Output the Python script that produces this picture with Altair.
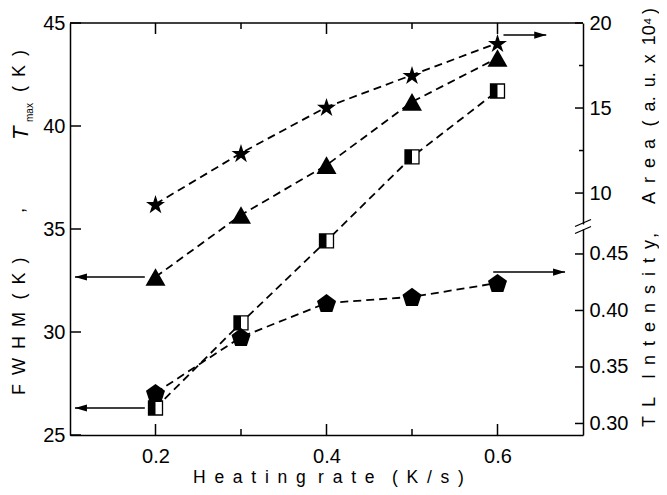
import altair as alt
import pandas as pd

# ---------------- data ----------------
rate = [0.2, 0.3, 0.4, 0.5, 0.6]
tmax = [32.67, 35.68, 38.10, 41.17, 43.30]          # left axis (K)
fwhm = [26.31, 30.44, 34.42, 38.50, 41.70]          # left axis (K)
area = [9.35, 12.35, 15.06, 16.94, 18.82]           # right upper axis (a.u. x 10^4)
tl_intensity = [0.327, 0.3765, 0.4066, 0.412, 0.4243]  # right lower axis

x_major = [0.2, 0.4, 0.6]
x_minor = [0.3, 0.5]
left_ticks = [25, 30, 35, 40, 45]
area_ticks = [10, 15, 20]
area_minor = [12.5, 17.5]
tl_ticks = [0.30, 0.35, 0.40, 0.45]

# arrows: which axis each series belongs to
left_arrow_y = [32.67, 26.31]
left_arrow_start, left_arrow_tip = 0.1875, 0.1058
area_arrow_y, area_arrow_start, area_arrow_tip = 19.29, 0.607, 0.657
tl_arrow_y, tl_arrow_start, tl_arrow_tip = 0.434, 0.595, 0.679

EN, THIN = "\u2002", "\u2009"
x_title = EN.join("Heating") + EN + THIN + EN.join("rate") + EN + EN + EN.join("(K/s)")
fwhm_title = EN.join("FWHM") + EN + THIN + EN.join("(K)")
t_title, max_title, k_title = "T", "max", EN.join("(K)")
tl_title = EN.join("TL") + EN + EN + EN.join("Intensity")
area_title = (EN.join("Area") + EN + THIN + "(" + EN + "a." + EN + "u." + EN + "x" + EN
              + "10\u2074" + THIN + ")")

# ---------------- styling ----------------
W, H = 513, 412
FONT = "Liberation Sans"
BLK = "black"

XS = alt.Scale(domain=[0.1, 0.7], nice=False, zero=False)
x_axis = alt.Axis(values=x_major, format=".1f", ticks=False, tickSize=0,
                  labelFontSize=20, labelFont=FONT, labelColor=BLK, labelPadding=11,
                  domainColor=BLK, domainWidth=1.5, grid=False, title=None)
XE = alt.X("x:Q", scale=XS, axis=x_axis)

YLS = alt.Scale(domain=[25, 45], nice=False, zero=False)
YL = alt.Y("v:Q", scale=YLS,
           axis=alt.Axis(orient="left", values=left_ticks, ticks=False, tickSize=0,
                         labelFontSize=20, labelFont=FONT, labelColor=BLK, labelPadding=5,
                         domainColor=BLK, domainWidth=1.5, grid=False, title=None))
YAS = alt.Scale(domain=[8.18, 20], range=[201, 0], nice=False, zero=False)
YA = alt.Y("v:Q", scale=YAS,
           axis=alt.Axis(orient="right", values=area_ticks, ticks=False, tickSize=0,
                         labelFontSize=20, labelFont=FONT, labelColor=BLK, labelPadding=6,
                         domainColor=BLK, domainWidth=1.5, grid=False, title=None))
YTS = alt.Scale(domain=[0.2898, 0.4721], range=[H, 206], nice=False, zero=False)
YT = alt.Y("v:Q", scale=YTS,
           axis=alt.Axis(orient="right", values=tl_ticks, format=".2f", ticks=False, tickSize=0,
                         labelFontSize=20, labelFont=FONT, labelColor=BLK, labelPadding=6,
                         domainColor=BLK, domainWidth=1.5, grid=False, title=None))


def star_path():
    import math
    pts = []
    for i in range(10):
        r = 1.0 if i % 2 == 0 else 0.382
        a = math.radians(-90 + 36 * i)
        pts.append((r * math.cos(a), r * math.sin(a) + 0.0955))
    return "M" + "L".join(f"{x:.3f},{y:.3f}" for x, y in pts) + "Z"


def pent_path():
    import math
    pts = []
    for i in range(5):
        a = math.radians(-90 + 72 * i)
        pts.append((math.cos(a), math.sin(a) + 0.0955))
    return "M" + "L".join(f"{x:.3f},{y:.3f}" for x, y in pts) + "Z"


TRI = "M0,-0.885L1,0.885L-1,0.885Z"
HALF = "M-1,-1L0,-1L0,1L-1,1Z"
HEAD_L = "M0,0L2,-0.6L2,0.6Z"
HEAD_R = "M0,0L-2,-0.6L-2,0.6Z"


def df(xs, vs):
    return pd.DataFrame({"x": xs, "v": vs})


def dline(d, Y):
    return alt.Chart(d).mark_line(color=BLK, strokeWidth=1.8, strokeDash=[8, 5]).encode(x=XE, y=Y)


def pts(d, Y, shape, size, **kw):
    args = dict(shape=shape, size=size, filled=True, color=BLK, opacity=1, strokeWidth=0)
    args.update(kw)
    return alt.Chart(d).mark_point(**args).encode(x=XE, y=Y)


def arrow(y, x0, x1, Y, head):
    body = alt.Chart(pd.DataFrame({"x": [x0] * len(y), "x2": [x1] * len(y), "v": y})).mark_rule(
        color=BLK, strokeWidth=1.5).encode(x=XE, x2="x2:Q", y=Y)
    tip = pts(df([x1] * len(y), y), Y, head, 144)
    return [body, tip]


dummy = pd.DataFrame({"a": [0]})

# ---------------- left group ----------------
d_tmax, d_fwhm = df(rate, tmax), df(rate, fwhm)
left_layers = [
    dline(d_tmax, YL), dline(d_fwhm, YL),
    pts(d_tmax, YL, TRI, 400),
    pts(d_fwhm, YL, "square", 196, fill="white", stroke=BLK, strokeWidth=1.3),
    pts(d_fwhm, YL, HALF, 196),
    alt.Chart(pd.DataFrame({"v": left_ticks})).mark_rule(color=BLK, strokeWidth=1.5).encode(
        y=YL, x=alt.value(0), x2=alt.value(11)),
    alt.Chart(pd.DataFrame({"x": x_major})).mark_rule(color=BLK, strokeWidth=1.5).encode(
        x=XE, y=alt.value(H), y2=alt.value(H - 11)),
    alt.Chart(pd.DataFrame({"x": x_minor})).mark_rule(color=BLK, strokeWidth=1.5).encode(
        x=XE, y=alt.value(H), y2=alt.value(H - 6)),
    alt.Chart(pd.DataFrame({"x": x_major})).mark_rule(color=BLK, strokeWidth=1.5).encode(
        x=XE, y=alt.value(0), y2=alt.value(11)),
    alt.Chart(pd.DataFrame({"x": x_minor})).mark_rule(color=BLK, strokeWidth=1.5).encode(
        x=XE, y=alt.value(0), y2=alt.value(6)),
    alt.Chart(dummy).mark_rule(color=BLK, strokeWidth=1.5).encode(
        x=alt.value(0), x2=alt.value(W), y=alt.value(0)),
] + arrow(left_arrow_y, left_arrow_start, left_arrow_tip, YL, HEAD_L)
left_group = alt.layer(*left_layers)

# ---------------- area group ----------------
d_area = df(rate, area)
area_layers = [
    dline(d_area, YA),
    pts(d_area, YA, star_path(), 400),
    alt.Chart(pd.DataFrame({"v": area_ticks})).mark_rule(color=BLK, strokeWidth=1.5).encode(
        y=YA, x=alt.value(W - 8), x2=alt.value(W)),
    alt.Chart(pd.DataFrame({"v": area_minor})).mark_rule(color=BLK, strokeWidth=1.5).encode(
        y=YA, x=alt.value(W - 4), x2=alt.value(W)),
] + arrow([area_arrow_y], area_arrow_start, area_arrow_tip, YA, HEAD_R)
area_group = alt.layer(*area_layers)

# ---------------- TL group ----------------
d_tl = df(rate, tl_intensity)
tl_layers = [
    dline(d_tl, YT),
    pts(d_tl, YT, pent_path(), 400),
    alt.Chart(pd.DataFrame({"v": tl_ticks})).mark_rule(color=BLK, strokeWidth=1.5).encode(
        y=YT, x=alt.value(W - 8), x2=alt.value(W)),
] + arrow([tl_arrow_y], tl_arrow_start, tl_arrow_tip, YT, HEAD_R)
tl_group = alt.layer(*tl_layers)

# ---------------- axis break + titles ----------------
def brk(y0):
    return alt.Chart(dummy).mark_rule(color=BLK, strokeWidth=1.3).encode(
        x=alt.value(W - 8), x2=alt.value(W + 8), y=alt.value(y0 + 3.5), y2=alt.value(y0 - 3.5))


def txt(s, x, y, size=18, angle=270, align="left", **kw):
    return alt.Chart(pd.DataFrame({"t": [s]})).mark_text(
        angle=angle, align=align, baseline="alphabetic", fontSize=size, font=FONT,
        color=BLK, **kw).encode(text="t:N", x=alt.value(x), y=alt.value(y))


RX = 585
deco = alt.layer(
    brk(200), brk(207),
    txt(x_title, 123, 460, size=17.5, angle=0),
    txt(fwhm_title, -45, 372),
    txt(",", -46, 190),
    txt(t_title, -42, 117, size=22, fontStyle="italic"),
    txt(max_title, -37, 99, size=10),
    txt(k_title, -45, 69),
    txt(tl_title, RX, 404),
    txt(",", RX + 1, 215),
    txt(area_title, RX, 181),
)

chart = alt.layer(left_group, area_group, tl_group, deco).resolve_scale(y="independent").properties(
    width=W, height=H, autosize=alt.AutoSizeParams(type="none"),
    padding={"left": 62, "top": 15, "right": 76, "bottom": 52},
).configure_view(stroke=None)

chart.save("out.html", embed_options={"renderer": "svg", "actions": False})
